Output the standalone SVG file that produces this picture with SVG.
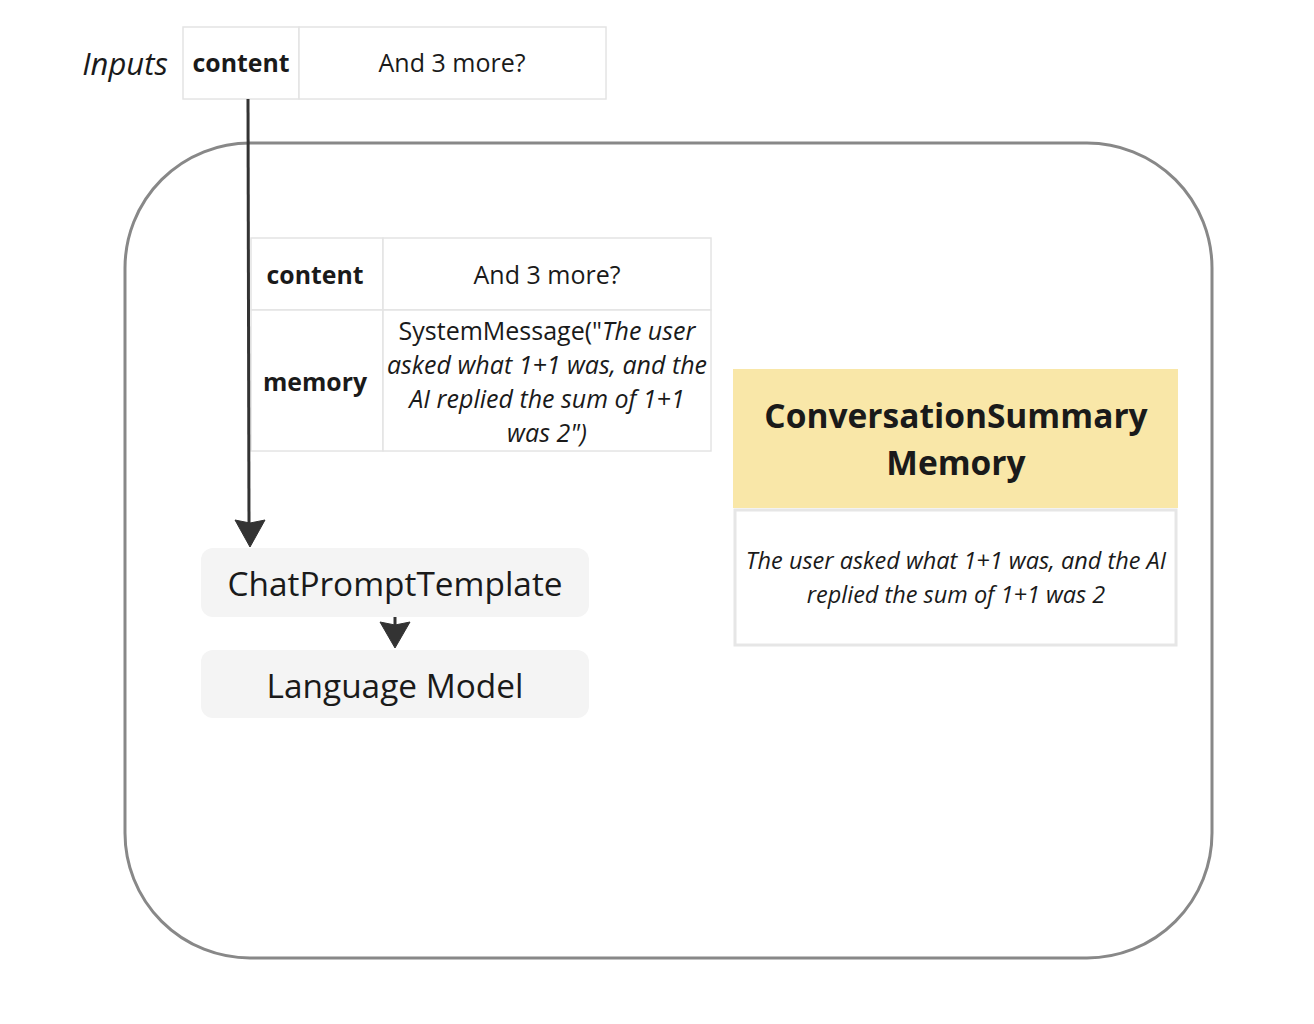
<svg xmlns="http://www.w3.org/2000/svg" width="1314" height="1024" viewBox="0 0 1314 1024">
<defs>
<style>
text{font-family:"Open Sans","Noto Sans",sans-serif;fill:#1a1a1a;text-anchor:middle}
.b{font-weight:bold}
.i{font-style:italic}
.cell{fill:#fff;stroke:#e4e4e4;stroke-width:1.5}
.pill{fill:#f4f4f4}
.conn{stroke:#333;stroke-width:3;fill:none}
</style>
</defs>
<rect width="1314" height="1024" fill="#fff"/>
<g id="container">
<rect x="125" y="143" width="1087" height="815" rx="125" ry="125" fill="none" stroke="#888" stroke-width="3"/>
</g>
<g id="inputs">
<text x="125" y="75" class="i" font-size="31">Inputs</text>
<rect class="cell" x="183" y="27" width="116" height="72"/>
<rect class="cell" x="299" y="27" width="307" height="72"/>
<text x="241" y="72" class="b" font-size="24.8">content</text>
<text x="452" y="72" font-size="25">And 3 more?</text>
</g>
<g id="prompt-inputs">
<rect class="cell" x="251" y="238" width="132" height="72"/>
<rect class="cell" x="383" y="238" width="328" height="72"/>
<rect class="cell" x="251" y="310" width="132" height="141"/>
<rect class="cell" x="383" y="310" width="328" height="141"/>
<text x="315" y="284" class="b" font-size="24.8">content</text>
<text x="547" y="284" font-size="25">And 3 more?</text>
<text x="315" y="391" class="b" font-size="24.8">memory</text>
<text x="547" y="340" font-size="25">SystemMessage("<tspan class="i">The user</tspan></text>
<text x="547" y="374" class="i" font-size="25">asked what 1+1 was, and the</text>
<text x="547" y="408" class="i" font-size="25">AI replied the sum of 1+1</text>
<text x="547" y="442" class="i" font-size="25">was 2")</text>
</g>
<g id="chat-prompt-template">
<rect class="pill" x="201" y="548" width="388" height="69" rx="12"/>
<text x="395" y="596" font-size="33.4">ChatPromptTemplate</text>
</g>
<g id="language-model">
<rect class="pill" x="201" y="650" width="388" height="68" rx="12"/>
<text x="395" y="698" font-size="33.4">Language Model</text>
</g>
<g id="memory">
<rect x="733" y="369" width="445" height="139" fill="#f9e7a8"/>
<rect x="735" y="510" width="441" height="135" fill="#fff" stroke="#e6e6e6" stroke-width="3"/>
<text x="956" y="428" class="b" font-size="33.5">ConversationSummary</text>
<text x="956" y="475" class="b" font-size="33.5">Memory</text>
<text x="956" y="569" class="i" font-size="23.5">The user asked what 1+1 was, and the AI</text>
<text x="956" y="603" class="i" font-size="23.5">replied the sum of 1+1 was 2</text>
</g>
<g id="connectors">
<line class="conn" x1="248" y1="99" x2="249" y2="524"/>
<path d="M235,520 L250,523 L265,520 L250,547 Z" fill="#333" stroke="#333" stroke-width="1" stroke-linejoin="round"/>
<line class="conn" x1="395" y1="617" x2="395" y2="626"/>
<path d="M380,622 L395,625 L410,622 L395,648 Z" fill="#333" stroke="#333" stroke-width="1" stroke-linejoin="round"/>
</g>
</svg>
